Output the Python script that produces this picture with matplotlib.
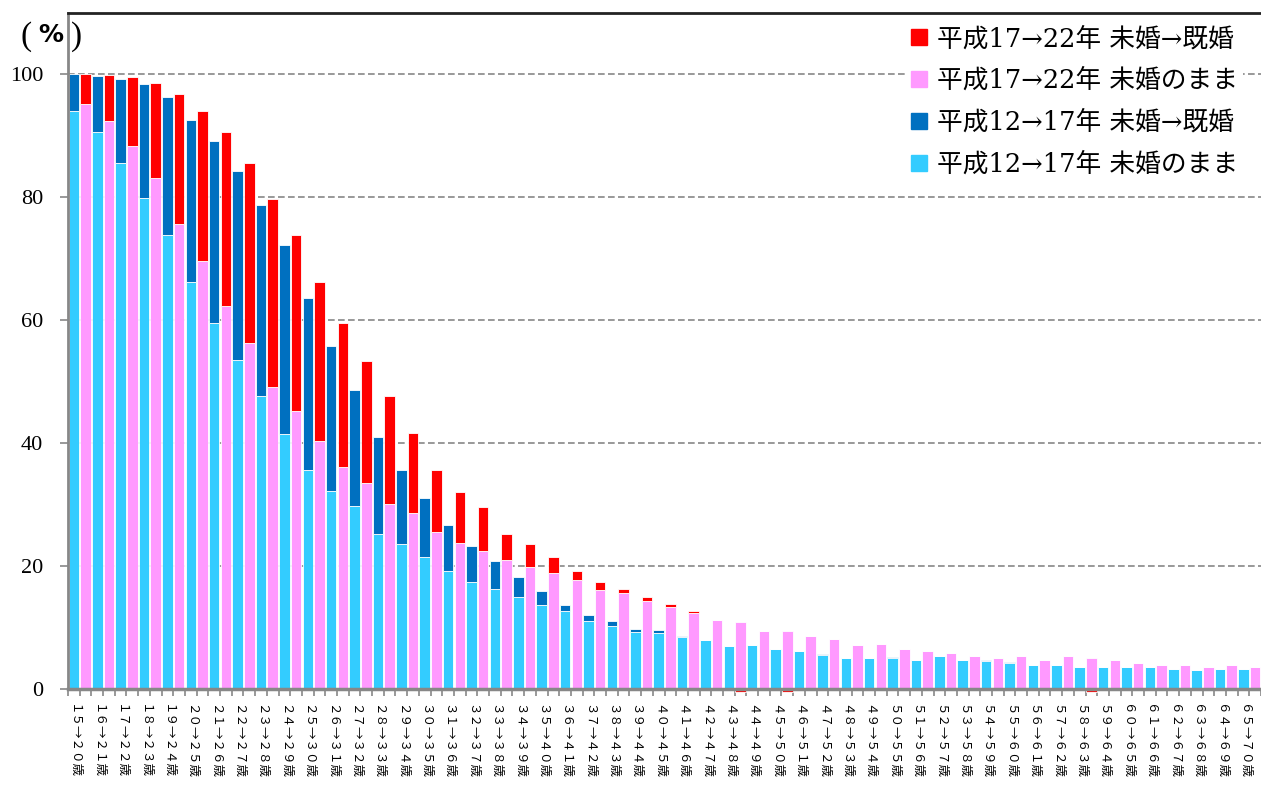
import numpy as np
import matplotlib.pyplot as plt
from matplotlib.patches import Patch

# age cohort labels (start age -> age five years later)
age_labels = [
    "15→20歳", "16→21歳", "17→22歳", "18→23歳", "19→24歳", "20→25歳",
    "21→26歳", "22→27歳", "23→28歳", "24→29歳", "25→30歳", "26→31歳",
    "27→32歳", "28→33歳", "29→34歳", "30→35歳", "31→36歳", "32→37歳",
    "33→38歳", "34→39歳", "35→40歳", "36→41歳", "37→42歳", "38→43歳",
    "39→44歳", "40→45歳", "41→46歳", "42→47歳", "43→48歳", "44→49歳",
    "45→50歳", "46→51歳", "47→52歳", "48→53歳", "49→54歳", "50→55歳",
    "51→56歳", "52→57歳", "53→58歳", "54→59歳", "55→60歳", "56→61歳",
    "57→62歳", "58→63歳", "59→64歳", "60→65歳", "61→66歳", "62→67歳",
    "63→68歳", "64→69歳", "65→70歳",
]

# 平成12→17年 (%)
h12_single = [
    94.1, 90.7, 85.6, 79.9, 73.8, 66.3, 59.5, 53.5, 47.7, 41.5, 35.7, 32.2,
    29.7, 25.3, 23.6, 21.5, 19.2, 17.4, 16.3, 14.9, 13.7, 12.7, 11.1, 10.2,
    9.2, 9.1, 8.5, 7.9, 7.0, 7.15, 6.45, 6.2, 5.5, 5.1, 5.1, 5.0,
    4.8, 5.3, 4.7, 4.6, 4.2, 3.9, 3.9, 3.6, 3.6, 3.6, 3.6, 3.3,
    3.1, 3.25, 3.2,
]
h12_married = [
    5.9, 9.1, 13.6, 18.6, 22.6, 26.3, 29.6, 30.8, 31.1, 30.7, 28.0, 23.6,
    19.0, 15.7, 12.1, 9.5, 7.5, 5.8, 4.6, 3.4, 2.3, 1.0, 1.0, 0.9,
    0.55, 0.5, 0.2, 0.1, 0.0, 0.0, 0.0, 0.0, 0.2, 0.0, 0.0, 0.2,
    0.0, 0.0, 0.0, 0.1, 0.2, 0.0, 0.0, 0.0, 0.0, 0.0, 0.0, 0.0,
    0.0, 0.0, 0.0,
]

# 平成17→22年 (%)
h17_single = [
    95.2, 92.5, 88.3, 83.2, 75.7, 69.6, 62.3, 56.3, 49.2, 45.3, 40.3, 36.2,
    33.5, 30.1, 28.7, 25.5, 23.8, 22.5, 21.0, 19.9, 18.9, 17.7, 16.1, 15.6,
    14.4, 13.4, 12.4, 11.2, 10.9, 9.4, 9.5, 8.6, 8.1, 7.1, 7.4, 6.45,
    6.2, 5.8, 5.3, 5.0, 5.3, 4.8, 5.3, 5.0, 4.8, 4.2, 3.85, 3.85,
    3.6, 3.85, 3.5,
]
h17_married = [
    4.8, 7.4, 11.3, 15.4, 21.1, 24.5, 28.4, 29.3, 30.6, 28.5, 26.0, 23.3,
    19.9, 17.5, 12.9, 10.2, 8.3, 7.1, 4.3, 3.7, 2.6, 1.5, 1.3, 0.6,
    0.5, 0.4, 0.3, 0.0, -0.5, 0.0, -0.5, 0.0, 0.0, 0.0, 0.0, 0.0,
    0.0, 0.0, 0.0, 0.0, 0.0, 0.0, 0.0, -0.5, 0.0, 0.0, 0.0, 0.0,
    0.0, 0.0, 0.15,
]

legend_labels = [
    "平成17→22年 未婚→既婚",
    "平成17→22年 未婚のまま",
    "平成12→17年 未婚→既婚",
    "平成12→17年 未婚のまま",
]

C_LIGHT = '#33CCFF'
C_DARK = '#0070C0'
C_PINK = '#FF99FF'
C_RED = '#FF0000'
GRAY = '#878787'

FULLWIDTH = str.maketrans('0123456789', '０１２３４５６７８９')


def stacked(ax, x, single, married, c_single, c_married):
    single = np.array(single)
    married = np.array(married)
    bottom = np.where(married >= 0, single, 0)
    kw = dict(width=0.9, edgecolor='white', linewidth=0.6, zorder=2, clip_on=False)
    ax.bar(x, single, color=c_single, **kw)
    ax.bar(x, married, bottom=bottom, color=c_married, **kw)


def main():
    plt.rcParams['font.family'] = ['Liberation Serif', 'Noto Sans CJK JP']

    fig = plt.figure(figsize=(12.61, 7.9), dpi=100)
    ax = fig.add_axes([68 / 1261, 101 / 790, 1193 / 1261, 676 / 790])

    n = len(age_labels)
    x12 = np.arange(n) * 2
    x17 = x12 + 1

    stacked(ax, x12, h12_single, h12_married, C_LIGHT, C_DARK)
    stacked(ax, x17, h17_single, h17_married, C_PINK, C_RED)

    ax.set_xlim(-0.5, 2 * n - 0.5)
    ax.set_ylim(0, 110)

    ax.set_yticks([0, 20, 40, 60, 80, 100])
    ax.set_yticklabels(['0', '20', '40', '60', '80', '100'], fontsize=16)
    ax.tick_params(axis='y', length=6, width=1.2, color=GRAY, pad=12)
    ax.yaxis.grid(True, color=GRAY, linestyle=(0, (4, 2)), linewidth=1.2)
    ax.set_axisbelow(True)

    # tick marks at every bar boundary, labels under the H12 bar of each group
    ax.set_xticks(np.arange(-0.5, 2 * n, 1))
    ax.set_xticklabels([])
    ax.tick_params(axis='x', which='major', length=5, width=1.2, color=GRAY)
    ax.set_xticks(x12, minor=True)
    ax.set_xticklabels([s.translate(FULLWIDTH) for s in age_labels], minor=True,
                       rotation=-90, fontsize=9, family='Noto Sans CJK JP',
                       color='black')
    ax.tick_params(axis='x', which='minor', length=0, pad=11)

    ax.spines['right'].set_visible(False)
    ax.spines['top'].set_color('#222222')
    ax.spines['top'].set_linewidth(2)
    ax.spines['left'].set_color(GRAY)
    ax.spines['left'].set_linewidth(2)
    ax.spines['bottom'].set_color(GRAY)
    ax.spines['bottom'].set_linewidth(2.5)

    handles = [Patch(color=c) for c in (C_RED, C_PINK, C_DARK, C_LIGHT)]
    leg = fig.legend(handles, legend_labels, loc='upper left',
                     bbox_to_anchor=(906 / 1261, 1 - 21 / 790),
                     prop={'family': ['DejaVu Serif', 'Noto Sans CJK JP'], 'size': 18.5},
                     handlelength=0.6, handleheight=0.6,
                     handletextpad=0.4, labelspacing=0.66, borderpad=0.2,
                     borderaxespad=0, frameon=True, fancybox=False)
    leg.get_frame().set_edgecolor('none')
    leg.get_frame().set_facecolor('white')
    leg.get_frame().set_alpha(1)

    # unit label "（%）", pieces placed apart like the full-width original
    unit_y = 1 - 37 / 790
    fig.text(26 / 1261, unit_y, '(', fontsize=24, ha='center', va='center')
    fig.text(51 / 1261, unit_y + 2 / 790, '%', fontsize=18, fontweight='bold',
             family='DejaVu Sans', ha='center', va='center')
    fig.text(77 / 1261, unit_y, ')', fontsize=24, ha='center', va='center')

    fig.savefig('out.png', dpi=100)


if __name__ == "__main__":
    main()
